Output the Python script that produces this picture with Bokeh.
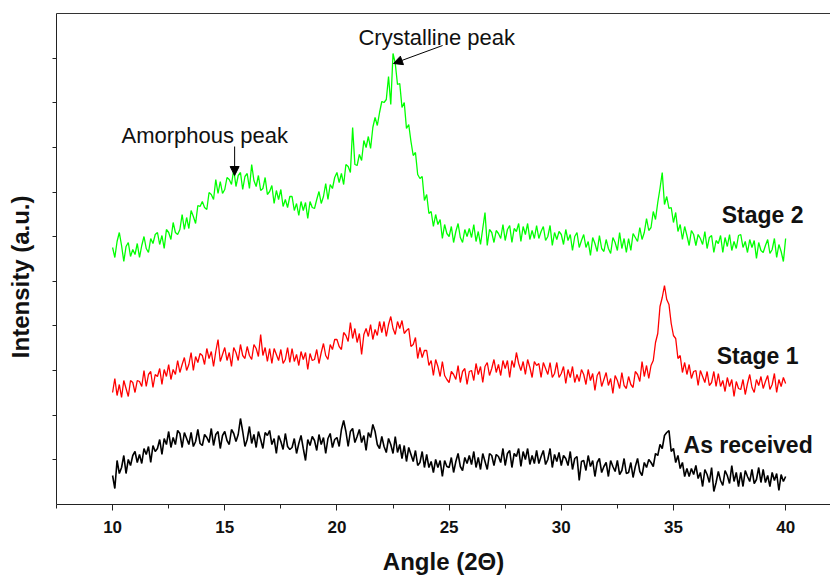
import numpy as np
from bokeh.plotting import figure
from bokeh.layouts import row
from bokeh.models import Range1d, FixedTicker, LinearAxis, Label, Arrow, NormalHead, CustomJSTickFormatter
from bokeh.embed import file_html
from bokeh.resources import INLINE

# ---------------- data ----------------
angles = np.round(np.linspace(10.0, 40.0, 301), 1)

stage2 = [
    257, 247, 263, 272, 259, 243, 258, 262, 248, 255,
    250, 261, 247, 259, 268, 256, 252, 266, 261, 270,
    272, 260, 269, 256, 275, 272, 265, 282, 272, 270,
    275, 290, 275, 287, 276, 294, 288, 281, 299, 298,
    303, 297, 295, 312, 310, 305, 325, 311, 323, 311,
    315, 327, 325, 320, 335, 318, 329, 332, 315, 328,
    331, 316, 340, 324, 318, 329, 314, 316, 327, 310,
    313, 319, 301, 314, 305, 315, 298, 305, 297, 308,
    308, 294, 301, 289, 303, 294, 302, 286, 303, 297,
    296, 305, 313, 301, 308, 321, 305, 320, 316, 327,
    332, 322, 331, 320, 340, 338, 332, 377, 340, 339,
    350, 344, 364, 357, 368, 356, 377, 387, 379, 392,
    403, 402, 405, 428, 400, 451, 441, 420, 421, 397,
    402, 376, 380, 363, 349, 352, 330, 326, 328, 304,
    310, 291, 293, 278, 290, 280, 285, 266, 280, 271,
    268, 278, 262, 273, 281, 267, 262, 275, 268, 276,
    267, 280, 263, 273, 260, 276, 292, 259, 275, 272,
    262, 274, 271, 266, 280, 264, 275, 279, 262, 276,
    273, 281, 263, 278, 270, 281, 265, 274, 266, 279,
    266, 273, 278, 264, 268, 279, 259, 272, 265, 273,
    270, 260, 275, 264, 270, 254, 268, 272, 257, 264,
    270, 257, 263, 249, 267, 261, 253, 269, 256, 253,
    265, 256, 251, 267, 262, 254, 272, 256, 266, 252,
    266, 254, 271, 267, 263, 277, 265, 272, 286, 274,
    277, 293, 285, 302, 316, 332, 300, 308, 296, 297,
    282, 292, 273, 280, 265, 278, 269, 259, 274, 270,
    259, 270, 266, 260, 273, 256, 267, 269, 252, 264,
    261, 269, 252, 267, 258, 270, 254, 263, 256, 269,
    270, 257, 263, 252, 265, 257, 264, 246, 262, 254,
    252, 259, 265, 251, 255, 266, 247, 260, 253, 243,
    266,
]

stage1 = [
    112, 126, 109, 120, 107, 124, 116, 108, 124, 122,
    112, 124, 123, 118, 134, 118, 130, 133, 117, 130,
    128, 136, 120, 135, 128, 140, 125, 135, 130, 144,
    132, 140, 147, 134, 140, 152, 134, 148, 142, 151,
    149, 140, 156, 146, 153, 138, 153, 165, 143, 150,
    157, 144, 152, 138, 157, 152, 144, 160, 149, 146,
    158, 149, 145, 160, 156, 148, 170, 149, 157, 143,
    156, 141, 156, 150, 144, 155, 141, 145, 157, 142,
    156, 143, 150, 139, 153, 145, 152, 135, 151, 144,
    145, 155, 141, 152, 161, 149, 145, 160, 155, 165,
    165, 158, 155, 172, 169, 163, 182, 166, 176, 162,
    171, 150, 170, 176, 168, 180, 165, 175, 169, 183,
    172, 183, 168, 180, 188, 176, 170, 183, 176, 184,
    171, 174, 176, 158, 160, 167, 146, 157, 147, 154,
    154, 139, 144, 129, 145, 138, 128, 143, 129, 125,
    122, 133, 130, 125, 139, 122, 133, 136, 120, 133,
    134, 124, 141, 130, 138, 122, 138, 142, 129, 136,
    145, 132, 140, 129, 144, 136, 144, 127, 144, 137,
    152, 141, 134, 143, 130, 145, 137, 127, 143, 139,
    141, 127, 142, 136, 130, 142, 127, 131, 142, 127,
    131, 138, 121, 135, 127, 138, 122, 130, 123, 135,
    130, 120, 135, 124, 131, 114, 129, 133, 118, 125,
    132, 119, 126, 111, 129, 124, 116, 132, 119, 116,
    128, 120, 117, 133, 130, 123, 143, 128, 139, 126,
    139, 144, 162, 171, 198, 207, 219, 205, 200, 181,
    169, 166, 146, 149, 132, 142, 130, 140, 126, 133,
    134, 119, 134, 128, 122, 133, 119, 122, 133, 118,
    131, 118, 124, 113, 127, 118, 125, 108, 123, 116,
    115, 125, 110, 121, 130, 117, 112, 125, 119, 128,
    116, 123, 129, 115, 120, 131, 112, 125, 118, 127,
    121,
]

as_received = [
    29, 16, 44, 31, 37, 49, 31, 45, 39, 49,
    53, 42, 50, 41, 56, 50, 58, 42, 59, 53,
    56, 65, 50, 66, 60, 73, 57, 67, 60, 74,
    71, 57, 72, 66, 60, 72, 58, 63, 75, 61,
    59, 70, 67, 62, 76, 59, 70, 73, 56, 69,
    73, 64, 60, 75, 71, 63, 70, 86, 73, 58,
    65, 78, 61, 70, 57, 73, 65, 56, 72, 69,
    74, 60, 66, 51, 69, 63, 55, 71, 58, 55,
    57, 66, 51, 61, 69, 56, 44, 65, 59, 68,
    64, 54, 70, 60, 67, 51, 66, 71, 57, 65,
    67, 58, 75, 84, 73, 58, 73, 76, 62, 68,
    75, 62, 69, 54, 72, 67, 80, 73, 60, 56,
    68, 58, 52, 66, 60, 51, 68, 52, 60, 46,
    59, 43, 57, 50, 43, 54, 39, 42, 53, 37,
    50, 37, 43, 32, 45, 37, 44, 28, 44, 38,
    37, 47, 32, 43, 51, 38, 34, 47, 41, 49,
    40, 53, 37, 47, 35, 51, 43, 35, 51, 49,
    39, 50, 48, 42, 56, 39, 51, 54, 37, 51,
    48, 56, 38, 53, 45, 56, 40, 49, 41, 54,
    41, 48, 54, 40, 45, 56, 37, 50, 43, 52,
    39, 49, 46, 39, 53, 35, 46, 48, 24, 43,
    44, 34, 49, 38, 44, 28, 42, 46, 32, 38,
    42, 28, 44, 38, 33, 44, 30, 34, 46, 31,
    32, 42, 27, 38, 46, 33, 29, 42, 37, 45,
    42, 38, 51, 49, 60, 56, 69, 72, 74, 53,
    56, 42, 49, 36, 42, 28, 36, 28, 36, 30,
    39, 26, 32, 18, 35, 30, 22, 37, 13, 22,
    33, 24, 19, 34, 29, 21, 39, 23, 32, 18,
    32, 18, 34, 28, 23, 35, 21, 25, 37, 22,
    35, 22, 29, 18, 32, 24, 31, 14, 30, 23,
    28,
]

x_major_ticks = [10, 15, 20, 25, 30, 35, 40]
x_minor_ticks = [7.5, 12.5, 17.5, 22.5, 27.5, 32.5, 37.5]
y_tick_step = 44.64
y_ticks = [y_tick_step * k for k in range(1, 11)]

FONT = "Liberation Sans"
TEXT_COLOR = "#111111"

# ---------------- y-axis title strip ----------------
LEFT_W = 46
tf = figure(width=LEFT_W, height=579, output_backend="svg", toolbar_location=None,
            x_range=Range1d(0, LEFT_W), y_range=Range1d(0, 579),
            x_axis_location=None, y_axis_location=None,
            min_border_left=0, min_border_right=0, min_border_top=0, min_border_bottom=0)
tf.grid.visible = False
tf.outline_line_color = None
tf.background_fill_color = "white"
tf.border_fill_color = "white"
tf.add_layout(Label(x=20, y=268.5, text="Intensity (a.u.)", angle=np.pi / 2,
                    text_align="center", text_baseline="middle", text_font=FONT,
                    text_font_style="bold", text_font_size="24px", text_color=TEXT_COLOR))

# ---------------- main plot ----------------
p = figure(width=830 - LEFT_W, height=579, output_backend="svg", toolbar_location=None,
           x_range=Range1d(7.5, 42.0), y_range=Range1d(0, 491),
           min_border_left=56 - LEFT_W, min_border_right=0, min_border_top=13, min_border_bottom=75)
p.grid.visible = False
p.outline_line_color = None
p.background_fill_color = "white"
p.border_fill_color = "white"

p.line(angles, as_received, line_color="#000000", line_width=1.6)
p.line(angles, stage1, line_color="#ff0000", line_width=1.3)
p.line(angles, stage2, line_color="#00ff00", line_width=1.3)

# x axis
xa = p.xaxis[0]
xa.ticker = FixedTicker(ticks=x_major_ticks, minor_ticks=x_minor_ticks)
xa.axis_line_color = "#222222"
xa.major_tick_line_color = "#222222"
xa.minor_tick_line_color = "#222222"
xa.major_tick_out = 6
xa.major_tick_in = 0
xa.minor_tick_out = 4
xa.minor_tick_in = 0
xa.major_label_text_font = FONT
xa.major_label_text_font_style = "bold"
xa.major_label_text_font_size = "17px"
xa.major_label_text_color = TEXT_COLOR
xa.major_label_standoff = 10
xa.axis_label = "Angle (2\u0398)"
xa.axis_label_text_font = FONT
xa.axis_label_text_font_style = "bold"
xa.axis_label_text_font_size = "24px"
xa.axis_label_text_color = TEXT_COLOR
xa.axis_label_standoff = 12

# y axis
ya = p.yaxis[0]
ya.ticker = FixedTicker(ticks=y_ticks, minor_ticks=[])
ya.formatter = CustomJSTickFormatter(code="return '';")
ya.axis_line_color = "#222222"
ya.major_tick_line_color = "#222222"
ya.major_tick_out = 4
ya.major_tick_in = 0
ya.minor_tick_line_color = None
ya.major_label_standoff = 0

# top border line
top = LinearAxis(ticker=FixedTicker(ticks=[], minor_ticks=[]))
top.axis_line_color = "#333333"
top.major_tick_line_color = None
top.minor_tick_line_color = None
top.major_label_standoff = 0
top.formatter = CustomJSTickFormatter(code="return '';")
p.add_layout(top, "above")

# series labels
for txt, lx, ly in [("Stage 2", 37.15, 290), ("Stage 1", 36.93, 149), ("As received", 35.45, 60)]:
    p.add_layout(Label(x=lx, y=ly, text=txt, text_align="left", text_baseline="alphabetic",
                       text_font=FONT, text_font_style="bold", text_font_size="23px",
                       text_color=TEXT_COLOR))

# peak annotations
p.add_layout(Label(x=20.96, y=467, text="Crystalline peak", text_align="left",
                   text_baseline="alphabetic", text_font=FONT, text_font_size="22px",
                   text_color=TEXT_COLOR))
p.add_layout(Label(x=10.4, y=369, text="Amorphous peak", text_align="left",
                   text_baseline="alphabetic", text_font=FONT, text_font_size="22px",
                   text_color=TEXT_COLOR))
p.add_layout(Arrow(end=NormalHead(size=9, fill_color="black", line_color="black"),
                   x_start=24.71, y_start=459, x_end=22.52, y_end=441,
                   line_color="black", line_width=1))
p.add_layout(Arrow(end=NormalHead(size=9, fill_color="black", line_color="black"),
                   x_start=15.44, y_start=358, x_end=15.44, y_end=329,
                   line_color="black", line_width=1))

layout = row(tf, p)
open("out.html", "w").write(file_html(layout, INLINE))
